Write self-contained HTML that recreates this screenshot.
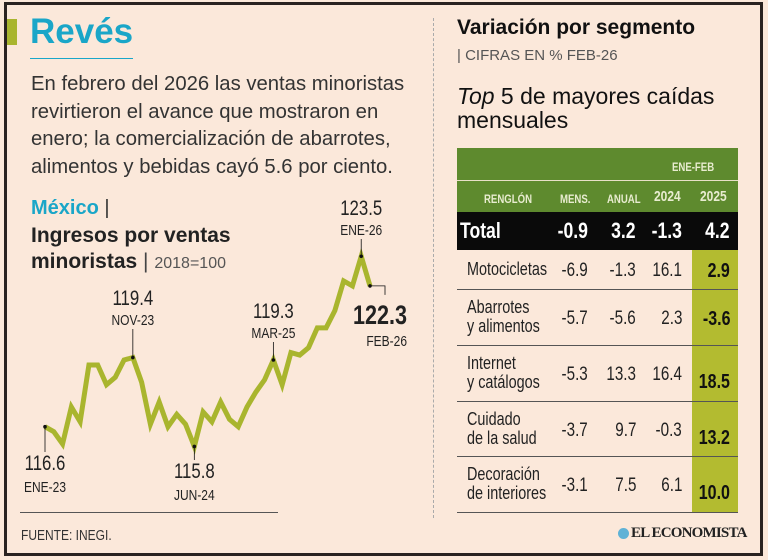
<!DOCTYPE html>
<html><head><meta charset="utf-8">
<style>
body{margin:0;width:768px;height:560px;background:#fbe8da;position:relative;overflow:hidden;font-family:"Liberation Sans",sans-serif;color:#222}
.a{position:absolute;white-space:nowrap}
.nl{transform:scaleX(0.8);transform-origin:left top}
.nr{transform:scaleX(0.8);transform-origin:right top}
</style></head><body>
<div class="a" style="left:4px;top:2px;width:753px;height:548px;border:3px solid #2a2220"></div>
<div class="a" style="left:7px;top:19px;width:10px;height:26px;background:#a9b52e"></div>
<div class="a" style="left:30px;top:12px;font-size:35px;font-weight:bold;color:#1aa6c8">Revés</div>
<div class="a" style="left:30px;top:58px;width:103px;height:1px;background:#1aa6c8"></div>
<div class="a" style="left:31px;top:71px;font-size:20.3px;line-height:27.5px;color:#333;white-space:normal;width:410px">En febrero del 2026 las ventas minoristas revirtieron el avance que mostraron en enero; la comercialización de abarrotes, alimentos y bebidas cayó 5.6 por ciento.</div>
<div class="a" style="left:433px;top:18px;height:500px;border-left:1px dashed #aaa"></div>

<div class="a" style="left:31px;top:197px;font-size:20px;font-weight:bold;color:#1aa6c8">México <span style="color:#333;font-weight:normal">|</span></div>
<div class="a" style="left:31px;top:223px;font-size:21px;font-weight:bold;line-height:26px">Ingresos por ventas<br>minoristas <span style="font-weight:normal;color:#444">|</span> <span style="font-weight:normal;font-size:16px;color:#555">2018=100</span></div>

<svg class="a" style="left:0;top:0" width="440" height="520" id="chart"></svg>
<div class="a" style="left:20px;top:512px;width:258px;height:1px;background:#555"></div>

<div class="a" style="left:457px;top:16px;font-size:21px;font-weight:bold;color:#111">Variación por segmento</div>
<div class="a" style="left:457px;top:47px;font-size:15px;color:#555">| CIFRAS EN % FEB-26</div>
<div class="a" style="left:457px;top:84px;font-size:23px;line-height:24px;color:#111"><i>Top</i> 5 de mayores caídas<br>mensuales</div>

<div class="a" style="left:457px;top:148px;width:281px;height:64px;background:#5e8a2e"></div>
<div class="a" style="left:457px;top:180px;width:281px;height:1px;background:#e8e0c8"></div>
<div class="a nl" style="left:672px;top:160px;font-size:12px;font-weight:bold;color:#e8ecd0">ENE-FEB</div>
<div class="a nl" style="left:484px;top:192px;font-size:12px;font-weight:bold;color:#e8ecd0">RENGLÓN</div>
<div class="a nl" style="left:560px;top:192px;font-size:12px;font-weight:bold;color:#e8ecd0">MENS.</div>
<div class="a nl" style="left:607px;top:192px;font-size:12px;font-weight:bold;color:#e8ecd0">ANUAL</div>
<div class="a nl" style="left:654px;top:188px;font-size:15px;font-weight:bold;color:#e8ecd0">2024</div>
<div class="a nl" style="left:700px;top:188px;font-size:15px;font-weight:bold;color:#e8ecd0">2025</div>
<div class="a" style="left:457px;top:212px;width:281px;height:38px;background:#0a0a0a"></div>
<div class="a" style="left:692px;top:250px;width:46px;height:263px;background:#b3bb30"></div>
<div id="rows"></div>

<div class="a nl" style="left:21px;top:527px;font-size:15px;color:#333">FUENTE: INEGI.</div>
<div class="a" style="left:618px;top:528px;width:11px;height:11px;border-radius:50%;background:#5fb2d6"></div>
<div class="a" style="left:631px;top:525px;font-family:'Liberation Serif',serif;font-weight:bold;font-size:15px;color:#222;letter-spacing:-0.8px">EL ECONOMISTA</div>

<script>
const months=["ENE-23","FEB-23","MAR-23","ABR-23","MAY-23","JUN-23","JUL-23","AGO-23","SEP-23","OCT-23","NOV-23","DIC-23","ENE-24","FEB-24","MAR-24","ABR-24","MAY-24","JUN-24","JUL-24","AGO-24","SEP-24","OCT-24","NOV-24","DIC-24","ENE-25","FEB-25","MAR-25","ABR-25","MAY-25","JUN-25","JUL-25","AGO-25","SEP-25","OCT-25","NOV-25","DIC-25","ENE-26","FEB-26"];
const values=[116.6,116.4,115.9,117.4,116.8,119.1,119.1,118.3,118.6,119.3,119.4,118.4,116.7,117.6,116.6,117.1,116.7,115.8,117.2,116.8,117.6,116.9,116.6,117.4,118.0,118.5,119.3,118.3,119.6,119.5,119.8,120.6,120.6,121.3,122.5,122.3,123.5,122.3];
const annotIdx=[0,10,17,26,36,37];
const NS="http://www.w3.org/2000/svg";
const svg=document.getElementById('chart');
const x=i=>45+i*(325/(months.length-1));
const y=v=>426.7-(v-116.6)*24.7;
function mk(t,a){const e=document.createElementNS(NS,t);for(const k in a)e.setAttribute(k,a[k]);svg.appendChild(e);return e;}
function txt(s,tx,ty,size,bold,anchor,name){
  const t=mk('text',{x:0,y:0,transform:`translate(${tx},${ty}) scale(0.8,1)`,'text-anchor':anchor,'font-size':size,'font-weight':bold?'bold':'normal','font-family':'"Liberation Sans",sans-serif',fill:'#222'});
  t.textContent=s;
  
  
  return t;
}
const ln=mk('polyline',{points:values.map((v,i)=>x(i)+','+y(v)).join(' '),fill:'none',stroke:'#a9b52e','stroke-width':5,'stroke-linejoin':'miter'});


const specs={0:{up:false,ty:470},10:{up:true,ty:305},17:{up:false,ty:478},26:{up:true,ty:318},36:{up:true,ty:215}};
annotIdx.forEach(i=>{
  const cx=x(i),cy=y(values[i]);
  const d=mk('circle',{cx:cx,cy:cy,r:1.8,fill:'#111'});
  
  
  if(i===37){
    mk('polyline',{points:`${cx},${cy} ${cx+15},${cy} ${cx+15},${cy+9}`,fill:'none',stroke:'#111','stroke-width':0.8});
    txt(values[i].toFixed(1),407,324,27,true,'end','value-label');
    txt(months[i],407,346,15,false,'end','month-label');
    return;
  }
  const s=specs[i];
  const vy=s.ty, my=s.up?s.ty+20:s.ty+22;
  mk('line',{x1:cx,y1:cy,x2:cx,y2:s.up?my+4:vy-18,stroke:'#111','stroke-width':0.8});
  txt(values[i].toFixed(1),cx,vy,21,false,'middle','value-label');
  txt(months[i],cx,my,15,false,'middle','month-label');
});

const rowNames=[["Motocicletas"],["Abarrotes","y alimentos"],["Internet","y catálogos"],["Cuidado","de la salud"],["Decoración","de interiores"]];
const mens=["-6.9","-5.7","-5.3","-3.7","-3.1"];
const anual=["-1.3","-5.6","13.3","9.7","7.5"];
const y2024=["16.1","2.3","16.4","-0.3","6.1"];
const y2025=["2.9","-3.6","18.5","13.2","10.0"];
const total=["-0.9","3.2","-1.3","4.2"];
const rowTops=[250,290,346,402,457,513];
const R=document.getElementById('rows');
function div(cls,css,txt,name){const d=document.createElement('div');d.className='a '+cls;d.style.cssText=css;d.textContent=txt;R.appendChild(d);return d;}
div('nl','left:460px;top:218px;font-size:22px;font-weight:bold;color:#fff','Total','total-label');
const rights=[588,636,682,730];
total.forEach((v,j)=>div('nr',`right:${768-rights[j]}px;top:218px;font-size:22px;font-weight:bold;color:#fff`,v,'total-value'));
rowNames.forEach((nm,i)=>{
  const t=rowTops[i],h=rowTops[i+1]-t,two=nm.length>1;
  div('nl',`left:467px;top:${two?t+8:t+10}px;font-size:18px;line-height:19px;color:#222;white-space:pre`,nm.join('\n'),'row-label');
  const vy=two?t+18:t+10;
  [mens[i],anual[i],y2024[i]].forEach((v,j)=>div('nr',`right:${768-rights[j]}px;top:${vy}px;font-size:19px;color:#222`,v,'cell-value'));
  div('nr',`right:${768-rights[3]}px;top:${two&&i>=2?t+25:vy}px;font-size:20px;font-weight:bold;color:#111`,y2025[i],'cell-2025');
  const l=document.createElement('div');l.className='a';l.style.cssText=`left:457px;top:${t+h-1}px;width:281px;height:1px;background:#555`;
  
  
  R.appendChild(l);
});
</script>
</body></html>
